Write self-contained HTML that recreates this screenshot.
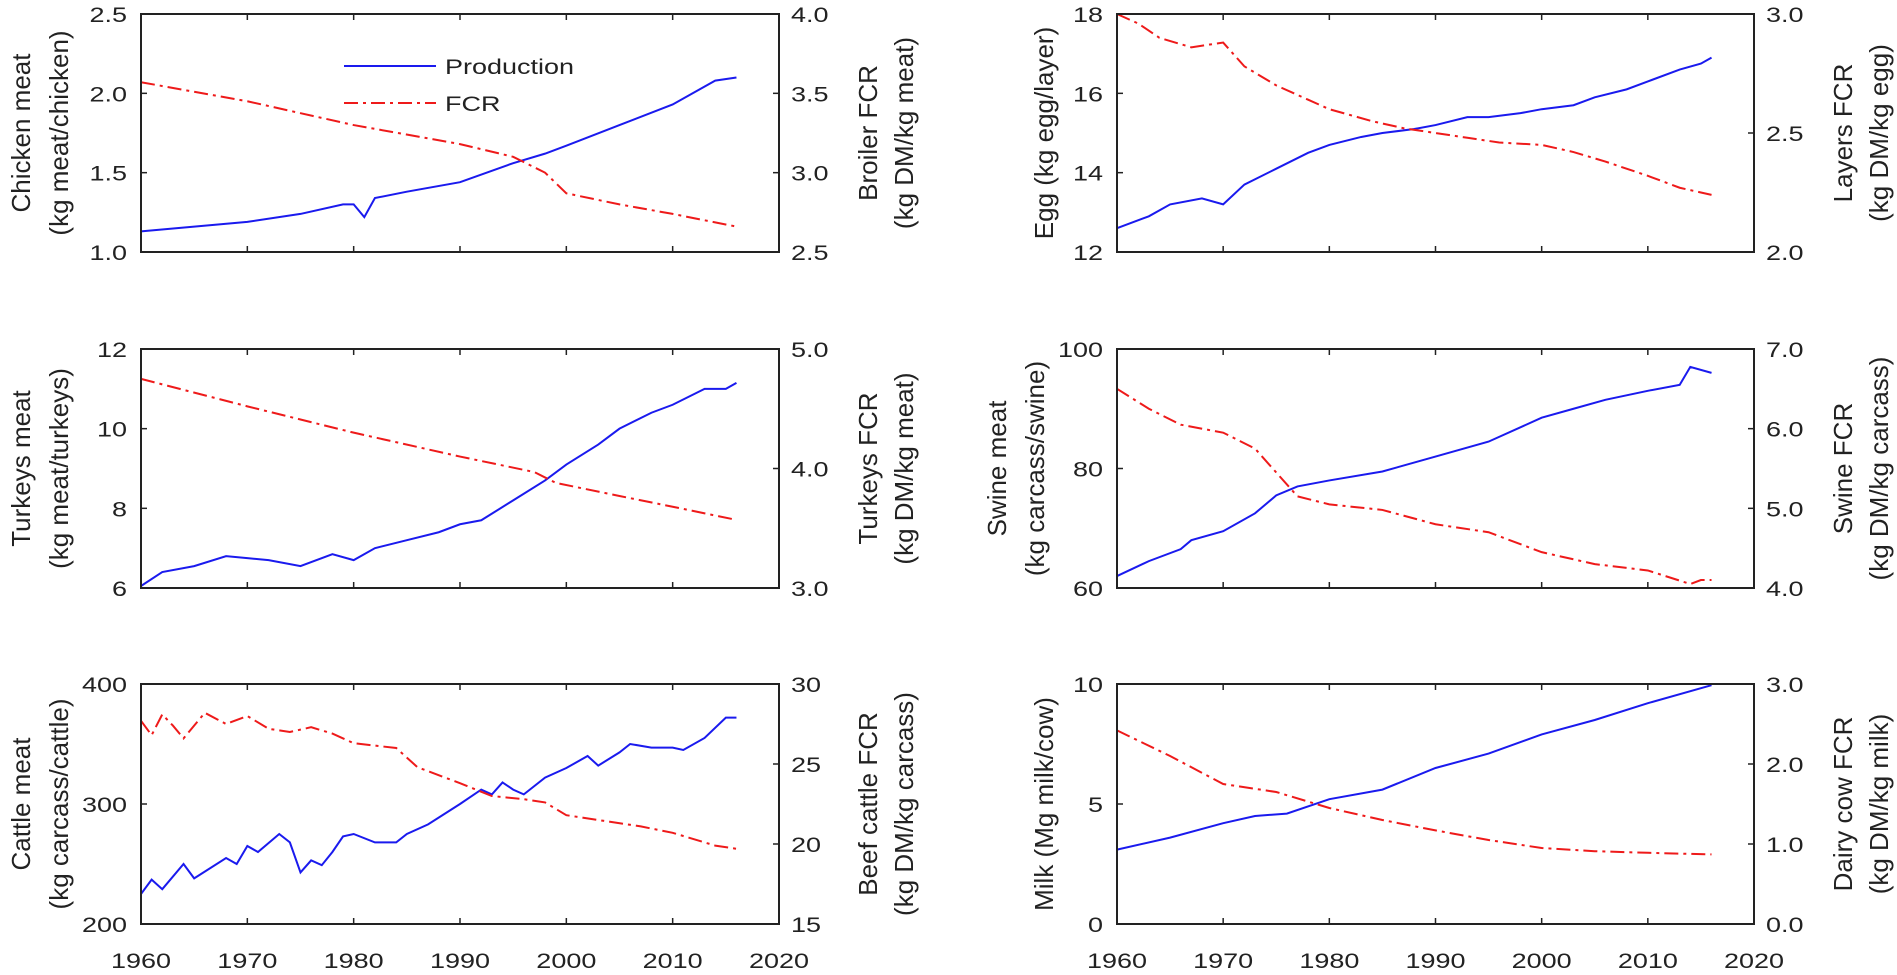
<!DOCTYPE html>
<html><head><meta charset="utf-8"><style>
html,body{margin:0;padding:0;background:#fff;}
svg{display:block;font-family:"Liberation Sans",Arial,sans-serif;}
</style></head><body>
<svg id="fig" width="1897" height="975" viewBox="0 0 1897 975"></svg>
<script>
// ---- data (years / values per panel) ----
const chickenYears=[1960,1965,1970,1975,1979,1980,1981,1982,1985,1990,1995,1998,2000,2005,2010,2014,2016];
const chickenProd=[1.13,1.16,1.19,1.24,1.30,1.30,1.22,1.34,1.38,1.44,1.56,1.62,1.67,1.80,1.93,2.08,2.10];
const chickenFcrYears=[1960,1970,1980,1990,1995,1998,2000,2005,2010,2016];
const chickenFcr=[3.57,3.45,3.30,3.18,3.10,3.00,2.87,2.80,2.74,2.66];

const eggYears=[1960,1963,1965,1968,1970,1972,1975,1978,1980,1983,1985,1988,1990,1993,1995,1998,2000,2003,2005,2008,2010,2013,2015,2016];
const eggProd=[12.6,12.9,13.2,13.35,13.2,13.7,14.1,14.5,14.7,14.9,15.0,15.1,15.2,15.4,15.4,15.5,15.6,15.7,15.9,16.1,16.3,16.6,16.75,16.9];
const eggFcrYears=[1960,1962,1964,1967,1970,1972,1975,1978,1980,1984,1987,1990,1993,1996,2000,2003,2006,2010,2013,2016];
const eggFcr=[3.0,2.96,2.9,2.86,2.88,2.78,2.70,2.64,2.60,2.55,2.52,2.50,2.48,2.46,2.45,2.42,2.38,2.32,2.27,2.24];

const turkeyYears=[1960,1962,1965,1968,1970,1972,1975,1978,1980,1982,1985,1988,1990,1992,1995,1998,2000,2003,2005,2008,2010,2013,2015,2016];
const turkeyProd=[6.05,6.4,6.55,6.8,6.75,6.7,6.55,6.85,6.7,7.0,7.2,7.4,7.6,7.7,8.2,8.7,9.1,9.6,10.0,10.4,10.6,11.0,11.0,11.15];
const turkeyFcrYears=[1960,1970,1980,1990,1997,1999,2005,2010,2016];
const turkeyFcr=[4.75,4.52,4.30,4.10,3.97,3.88,3.77,3.68,3.57];

const swineYears=[1960,1963,1966,1967,1970,1973,1975,1977,1980,1985,1990,1995,2000,2003,2006,2010,2013,2014,2016];
const swineProd=[62,64.5,66.5,68,69.5,72.5,75.5,77,78,79.5,82,84.5,88.5,90,91.5,93,94,97,96];
const swineFcrYears=[1960,1963,1966,1970,1973,1975,1977,1980,1985,1990,1995,2000,2005,2010,2014,2015,2016];
const swineFcr=[6.5,6.25,6.05,5.95,5.75,5.45,5.15,5.05,4.98,4.8,4.7,4.45,4.3,4.22,4.05,4.1,4.1];

const cattleYears=[1960,1961,1962,1964,1965,1968,1969,1970,1971,1973,1974,1975,1976,1977,1978,1979,1980,1982,1984,1985,1987,1990,1992,1993,1994,1995,1996,1998,2000,2001,2002,2003,2005,2006,2008,2010,2011,2013,2015,2016];
const cattleProd=[225,237,229,250,238,255,250,265,260,275,268,243,253,249,260,273,275,268,268,275,283,300,312,308,318,312,308,322,330,335,340,332,343,350,347,347,345,355,372,372];
const cattleFcrYears=[1960,1961,1962,1963,1964,1966,1968,1970,1972,1974,1976,1978,1980,1984,1986,1990,1993,1996,1998,2000,2003,2007,2010,2014,2016];
const cattleFcr=[27.7,26.8,28.1,27.4,26.6,28.2,27.5,28.0,27.2,27.0,27.3,26.9,26.3,26.0,24.8,23.8,23.0,22.8,22.6,21.8,21.5,21.1,20.7,19.9,19.7];

const milkYears=[1960,1965,1970,1973,1976,1980,1985,1990,1995,2000,2005,2010,2016];
const milkProd=[3.1,3.6,4.2,4.5,4.6,5.2,5.6,6.5,7.1,7.9,8.5,9.2,9.95];
const milkFcrYears=[1960,1965,1970,1975,1980,1985,1990,1995,2000,2005,2010,2016];
const milkFcr=[2.42,2.1,1.75,1.65,1.45,1.3,1.17,1.05,0.95,0.91,0.89,0.87];

const xTicks=[1960,1970,1980,1990,2000,2010,2020];
const chickenLTicks=["1.0","1.5","2.0","2.5"], chickenRTicks=["2.5","3.0","3.5","4.0"];
const eggLTicks=["12","14","16","18"], eggRTicks=["2.0","2.5","3.0"];
const turkeyLTicks=["6","8","10","12"], turkeyRTicks=["3.0","4.0","5.0"];
const swineLTicks=["60","80","100"], swineRTicks=["4.0","5.0","6.0","7.0"];
const cattleLTicks=["200","300","400"], cattleRTicks=["15","20","25","30"];
const milkLTicks=["0","5","10"], milkRTicks=["0.0","1.0","2.0","3.0"];

const NS="http://www.w3.org/2000/svg";
const svg=document.getElementById('fig');
function mk(tag,attrs,parent){const e=document.createElementNS(NS,tag);for(const k in attrs)e.setAttribute(k,attrs[k]);(parent||svg).appendChild(e);return e;}
const SY=0.78, FS=27;
function htext(g,x,y,anchor,str){
  return mk('text',{x:0,y:0,transform:`translate(${x},${y}) scale(1,${SY})`,'text-anchor':anchor,'font-size':FS,fill:'#222'},g);
}

const cols=[{x0:141,x1:779},{x0:1117,x1:1754}];
const rows=[{y0:14,y1:252},{y0:349,y1:588},{y0:684,y1:924}];

const panels=[
 {id:'chicken',c:0,r:0,ly:chickenYears,lv:chickenProd,ry:chickenFcrYears,rv:chickenFcr,lt:chickenLTicks,rt:chickenRTicks,lt1:"Chicken meat",lt2:"(kg meat/chicken)",rt1:"Broiler FCR",rt2:"(kg DM/kg meat)"},
 {id:'egg',c:1,r:0,ly:eggYears,lv:eggProd,ry:eggFcrYears,rv:eggFcr,lt:eggLTicks,rt:eggRTicks,lt1:"Egg (kg egg/layer)",lt2:null,rt1:"Layers FCR",rt2:"(kg DM/kg egg)"},
 {id:'turkey',c:0,r:1,ly:turkeyYears,lv:turkeyProd,ry:turkeyFcrYears,rv:turkeyFcr,lt:turkeyLTicks,rt:turkeyRTicks,lt1:"Turkeys meat",lt2:"(kg meat/turkeys)",rt1:"Turkeys FCR",rt2:"(kg DM/kg meat)"},
 {id:'swine',c:1,r:1,ly:swineYears,lv:swineProd,ry:swineFcrYears,rv:swineFcr,lt:swineLTicks,rt:swineRTicks,lt1:"Swine meat",lt2:"(kg carcass/swine)",rt1:"Swine FCR",rt2:"(kg DM/kg carcass)"},
 {id:'cattle',c:0,r:2,ly:cattleYears,lv:cattleProd,ry:cattleFcrYears,rv:cattleFcr,lt:cattleLTicks,rt:cattleRTicks,lt1:"Cattle meat",lt2:"(kg carcass/cattle)",rt1:"Beef cattle FCR",rt2:"(kg DM/kg carcass)"},
 {id:'milk',c:1,r:2,ly:milkYears,lv:milkProd,ry:milkFcrYears,rv:milkFcr,lt:milkLTicks,rt:milkRTicks,lt1:"Milk (Mg milk/cow)",lt2:null,rt1:"Dairy cow FCR",rt2:"(kg DM/kg milk)"}
];

function vtext(g,x,y,str,name){
  const t=mk('text',{x:0,y:0,transform:`translate(${x},${y}) rotate(-90)`,'text-anchor':'middle','font-size':'26',fill:'#222'},g);
  
  
  t.textContent=str;
}

panels.forEach(p=>{
  const {x0,x1}=cols[p.c],{y0,y1}=rows[p.r];
  const g=mk('g',{});
  
  
  const xs=v=>x0+(v-1960)/60*(x1-x0);
  const lmin=+p.lt[0],lmax=+p.lt[p.lt.length-1],rmin=+p.rt[0],rmax=+p.rt[p.rt.length-1];
  const ysL=v=>y1-(v-lmin)/(lmax-lmin)*(y1-y0);
  const ysR=v=>y1-(v-rmin)/(rmax-rmin)*(y1-y0);
  xTicks.forEach(t=>{const x=xs(t);
    mk('line',{x1:x,x2:x,y1:y1,y2:y1-6,stroke:'#222','stroke-width':1.5},g);
    mk('line',{x1:x,x2:x,y1:y0,y2:y0+6,stroke:'#222','stroke-width':1.5},g);
    if(p.r===2){const tx=htext(g,x,y1+44,'middle');
      
      
      tx.textContent=t;}
  });
  p.lt.forEach(s=>{const y=ysL(+s);
    mk('line',{x1:x0,x2:x0+6,y1:y,y2:y,stroke:'#222','stroke-width':1.5},g);
    const tx=htext(g,x0-14,y+8,'end');
    
    
    tx.textContent=s;});
  p.rt.forEach(s=>{const y=ysR(+s);
    mk('line',{x1:x1,x2:x1-6,y1:y,y2:y,stroke:'#222','stroke-width':1.5},g);
    const tx=htext(g,x1+12,y+8,'start');
    
    
    tx.textContent=s;});
  const cy=(y0+y1)/2;
  if(p.lt2){vtext(g,x0-111,cy,p.lt1,'left-y-axis-title');vtext(g,x0-73,cy,p.lt2,'left-y-axis-subtitle');}
  else vtext(g,x0-64,cy,p.lt1,'left-y-axis-title');
  vtext(g,x1+98,cy,p.rt1,'right-y-axis-title');vtext(g,x1+134,cy,p.rt2,'right-y-axis-subtitle');
  const prod=mk('polyline',{points:p.ly.map((yr,i)=>xs(yr)+','+ysL(p.lv[i])).join(' '),fill:'none',stroke:'#1a1aee','stroke-width':2},g);
  
  
  const fcr=mk('polyline',{points:p.ry.map((yr,i)=>xs(yr)+','+ysR(p.rv[i])).join(' '),fill:'none',stroke:'#ee1a1a','stroke-width':2,'stroke-dasharray':'14 5 3 5'},g);
  
  
  const fr=mk('rect',{x:x0,y:y0,width:x1-x0,height:y1-y0,fill:'none',stroke:'#222','stroke-width':2},g);
  
  
});

const lg=mk('g',{});


mk('line',{x1:344,x2:436,y1:66,y2:66,stroke:'#1a1aee','stroke-width':2},lg);
mk('line',{x1:344,x2:436,y1:103,y2:103,stroke:'#ee1a1a','stroke-width':2,'stroke-dasharray':'14 5 3 5'},lg);
const l1=htext(lg,445,74,'start');


l1.textContent='Production';
const l2=htext(lg,445,111,'start');


l2.textContent='FCR';
</script>
</body></html>
